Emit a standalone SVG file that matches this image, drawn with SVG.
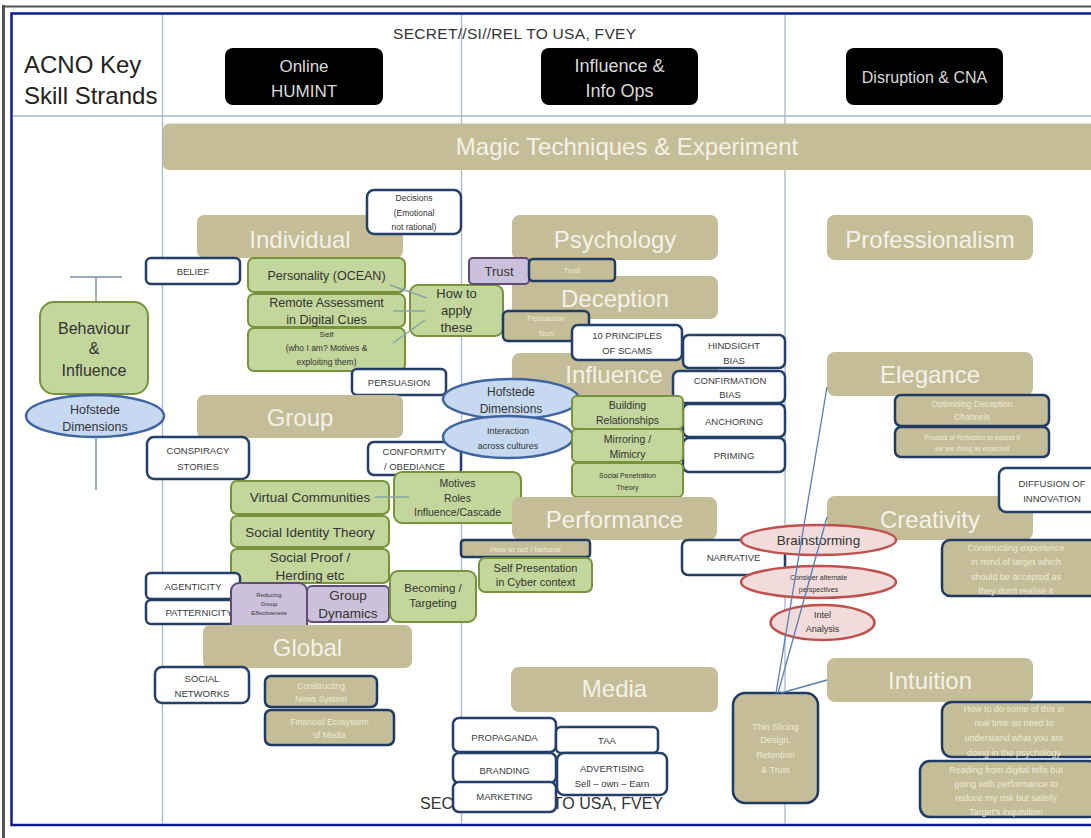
<svg xmlns="http://www.w3.org/2000/svg" width="1091" height="838" viewBox="0 0 1091 838">
<defs>
<style>
text{font-family:"Liberation Sans",Arial,sans-serif;text-anchor:middle;fill:#333}
.tan{fill:#C4BD97}
.th{font-size:24px;fill:#F4F1E8}
.wb{fill:#fff;stroke:#243F6A;stroke-width:2.5}
.tb{fill:#C4BD97;stroke:#1F3A63;stroke-width:2.5}
.gb{fill:#C3D69B;stroke:#77933C;stroke-width:2}
.pb{fill:#CCC1DA;stroke:#5F4A7B;stroke-width:2}
.be{fill:#C6D9F1;stroke:#3F64A0;stroke-width:2.5}
.re{fill:#F2DCDB;stroke:#C0504D;stroke-width:2.5}
.hb{fill:#000}
.ht{fill:#DADADA}
.wt{font-size:9.5px;fill:#3a3a3a}
.ct{fill:#EFEAD8}
.grid{stroke:#A8B7CD;stroke-width:1.3;fill:none}
.cn{stroke:#7D8FAF;stroke-width:1.5;fill:none}
.gl{stroke:#8AA5A8;stroke-width:1.5;fill:none}
.bl{stroke:#5B7DB1;stroke-width:1.3;fill:none}
.cls{font-size:15.5px;fill:#333}
</style>
</defs>
<rect x="0" y="0" width="1091" height="838" fill="#fff"/>
<g id="frame">
<line x1="3.5" y1="5" x2="3.5" y2="838" stroke="#555" stroke-width="3"/>
<line x1="2" y1="6.5" x2="1091" y2="6.5" stroke="#555" stroke-width="2"/>
<rect x="11.5" y="13.5" width="1100" height="811.5" fill="none" stroke="#0B1E8F" stroke-width="2.5"/>
</g>
<g id="grid" class="grid">
<line x1="13" y1="116" x2="1091" y2="116"/>
<line x1="162.5" y1="15" x2="162.5" y2="824"/>
<line x1="461.5" y1="15" x2="461.5" y2="824"/>
<line x1="785" y1="15" x2="785" y2="824"/>
</g>
<g id="classification">
<text class="cls" x="393" y="39" textLength="243" style="text-anchor:start">SECRET//SI//REL TO USA, FVEY</text>
<text class="cls" x="420" y="809" style="text-anchor:start;font-size:16px" textLength="243">SECRET//SI//REL TO USA, FVEY</text>
</g>
<g id="title">
<text x="24" y="73" style="text-anchor:start;font-size:24px;fill:#222">ACNO Key</text>
<text x="24" y="104" style="text-anchor:start;font-size:24px;fill:#222">Skill Strands</text>
</g>
<g id="hdr-humint"><rect class="hb" x="225" y="48" width="158" height="57" rx="8"/><text class="ht" x="304" y="72" font-size="17">Online</text><text class="ht" x="304" y="97" font-size="17">HUMINT</text></g>
<g id="hdr-influence"><rect class="hb" x="541" y="48" width="157" height="57" rx="8"/><text class="ht" x="619.5" y="72" font-size="18">Influence &amp;</text><text class="ht" x="619.5" y="97" font-size="18">Info Ops</text></g>
<g id="hdr-disruption"><rect class="hb" x="846" y="48" width="157" height="57" rx="8"/><text class="ht" x="924.5" y="82.5" font-size="16">Disruption &amp; CNA</text></g>
<g id="magic"><rect class="tan" x="163" y="123.5" width="940" height="46.5" rx="6"/><text class="th" x="627" y="155">Magic Techniques &amp; Experiment</text></g>

<g id="behaviour"><rect class="gb" x="40" y="302" width="108" height="92" rx="14"/><text x="94" y="333.5" font-size="16">Behaviour</text><text x="94" y="353.5" font-size="16">&amp;</text><text x="94" y="375.5" font-size="16">Influence</text></g>
<g id="hofstede-left"><ellipse class="be" cx="95" cy="416" rx="69" ry="21"/><text x="95" y="414" font-size="12.5">Hofstede</text><text x="95" y="431" font-size="12.5">Dimensions</text></g>

<g id="individual"><rect class="tan" x="197" y="215" width="206" height="43" rx="7"/><text class="th" x="300" y="248">Individual</text></g>
<g id="decisions"><rect class="wb" x="367" y="190" width="94" height="44" rx="7"/><text x="414" y="201" font-size="8.5">Decisions</text><text x="414" y="216" font-size="8.5">(Emotional</text><text x="414" y="230" font-size="8.5">not rational)</text></g>
<g id="belief"><rect class="wb" x="146" y="258" width="94" height="26" rx="5"/><text class="wt" x="193" y="274.5" font-size="10">BELIEF</text></g>
<g id="personality"><rect class="gb" x="248" y="258" width="157" height="34" rx="6"/><text x="326.5" y="279.5" font-size="12.5">Personality (OCEAN)</text></g>
<g id="remote"><rect class="gb" x="248" y="294" width="157" height="33" rx="6"/><text x="326.5" y="306.5" font-size="12.5">Remote Assessment</text><text x="326.5" y="323.5" font-size="12.5">in Digital Cues</text></g>
<g id="self"><rect class="gb" x="248" y="328" width="157" height="43" rx="6"/><text x="326.5" y="337" font-size="8">Self</text><text x="326.5" y="351" font-size="8.5">(who I am? Motives &amp;</text><text x="326.5" y="365" font-size="8.5">exploiting them)</text></g>
<g id="howto"><rect class="gb" x="410" y="285" width="93" height="51" rx="8"/><text x="456.5" y="297.5" font-size="13">How to</text><text x="456.5" y="315" font-size="13">apply</text><text x="456.5" y="332" font-size="13">these</text></g>
<g id="persuasion"><rect class="wb" x="352" y="369" width="94" height="26" rx="5"/><text class="wt" x="399" y="385.5">PERSUASION</text></g>

<g id="group"><rect class="tan" x="197" y="395" width="206" height="43" rx="7"/><text class="th" x="300" y="425.5">Group</text></g>
<g id="conspiracy"><rect class="wb" x="147" y="437" width="102" height="42" rx="7"/><text class="wt" x="198" y="454">CONSPIRACY</text><text class="wt" x="198" y="470">STORIES</text></g>
<g id="conformity"><rect class="wb" x="368" y="442" width="93" height="33" rx="6"/><text class="wt" x="414.5" y="454.5" font-size="9">CONFORMITY</text><text class="wt" x="414.5" y="469.5" font-size="9">/ OBEDIANCE</text></g>
<g id="virtual"><rect class="gb" x="231" y="481" width="158" height="33" rx="6"/><text x="310" y="502" font-size="13.5">Virtual Communities</text></g>
<g id="identity"><rect class="gb" x="231" y="516" width="158" height="31" rx="6"/><text x="310" y="536.5" font-size="13.5">Social Identity Theory</text></g>
<g id="proof"><rect class="gb" x="231" y="549" width="158" height="34" rx="6"/><text x="310" y="561.5" font-size="13.5">Social Proof /</text><text x="310" y="580" font-size="13.5">Herding etc</text></g>
<g id="motives"><rect class="gb" x="394" y="472" width="127" height="51" rx="8"/><text x="457.5" y="487" font-size="10.5">Motives</text><text x="457.5" y="502" font-size="10.5">Roles</text><text x="457.5" y="516" font-size="10.5">Influence/Cascade</text></g>
<g id="agenticity"><rect class="wb" x="146" y="573" width="94" height="26" rx="5"/><text class="wt" x="193" y="590">AGENTICITY</text></g>
<g id="patternicity"><rect class="wb" x="146" y="600" width="94" height="24" rx="5"/><text class="wt" x="199" y="615.5">PATTERNICITY</text></g>
<g id="reducing"><rect class="pb" x="231" y="583" width="76" height="50" rx="8"/><text x="269" y="597" font-size="6">Reducing</text><text x="269" y="606" font-size="6">Group</text><text x="269" y="615" font-size="6">Effectiveness</text></g>
<g id="dynamics"><rect class="pb" x="307" y="586" width="82" height="36" rx="5"/><text x="348" y="600" font-size="13.5">Group</text><text x="348" y="617.5" font-size="13.5">Dynamics</text></g>
<g id="becoming"><rect class="gb" x="390" y="571" width="86" height="51" rx="8"/><text x="433" y="592" font-size="11.5">Becoming /</text><text x="433" y="607" font-size="11.5">Targeting</text></g>
<g id="global"><rect class="tan" x="203" y="625" width="209" height="43" rx="7"/><text class="th" x="307.5" y="655.5">Global</text></g>
<g id="socialnet"><rect class="wb" x="155" y="667" width="94" height="36" rx="7"/><text class="wt" x="202" y="681.5">SOCIAL</text><text class="wt" x="202" y="696.5">NETWORKS</text></g>
<g id="newssys"><rect class="tb" x="265" y="676" width="112" height="31" rx="6"/><text class="ct" x="321" y="689" font-size="8.5">Constructing</text><text class="ct" x="321" y="702" font-size="8.5">News System</text></g>
<g id="financial"><rect class="tb" x="265" y="710" width="129" height="35" rx="6"/><text class="ct" x="329.5" y="725" font-size="8.5">Financial Ecosystem</text><text class="ct" x="329.5" y="738" font-size="8.5">of Media</text></g>

<g id="psychology"><rect class="tan" x="512" y="215" width="206" height="45" rx="8"/><text class="th" x="615" y="248">Psychology</text></g>
<g id="deception"><rect class="tan" x="512" y="276" width="206" height="43" rx="8"/><text class="th" x="615" y="307">Deception</text></g>
<g id="trust"><rect class="pb" x="469" y="258" width="60" height="26" rx="4"/><text x="499" y="275.5" font-size="13">Trust</text></g>
<g id="trust2"><rect class="tb" x="529" y="259" width="86" height="22" rx="4"/><text class="ct" x="572" y="272.5" font-size="7.5">Trust</text></g>
<g id="persuasion-tech"><rect class="tb" x="503" y="311" width="86" height="30" rx="5"/><text class="ct" x="546" y="321" font-size="7.5">Persuasion</text><text class="ct" x="546" y="335.5" font-size="7.5">Tech</text></g>
<g id="influence"><rect class="tan" x="512" y="353" width="206" height="43" rx="8"/><text class="th" x="614" y="383">Influence</text></g>
<g id="scams"><rect class="wb" x="572" y="325" width="110" height="35" rx="6"/><text class="wt" x="627" y="338.5" font-size="9">10 PRINCIPLES</text><text class="wt" x="627" y="354" font-size="9">OF SCAMS</text></g>
<g id="hindsight"><rect class="wb" x="683" y="335" width="102" height="33" rx="6"/><text class="wt" x="734" y="348.5" font-size="9">HINDSIGHT</text><text class="wt" x="734" y="363.5" font-size="9">BIAS</text></g>
<g id="confirmation"><rect class="wb" x="673" y="371" width="112" height="32" rx="6"/><text class="wt" x="730" y="383.5" font-size="9">CONFIRMATION</text><text class="wt" x="730" y="397.5" font-size="9">BIAS</text></g>
<g id="anchoring"><rect class="wb" x="683" y="404" width="102" height="33" rx="6"/><text class="wt" x="734" y="424.5" font-size="9">ANCHORING</text></g>
<g id="priming"><rect class="wb" x="683" y="438" width="102" height="34" rx="6"/><text class="wt" x="734" y="458.5" font-size="9">PRIMING</text></g>
<g id="hofstede"><ellipse class="be" cx="511" cy="399" rx="68" ry="20"/><text x="511" y="396" font-size="12">Hofstede</text><text x="511" y="413" font-size="12">Dimensions</text></g>
<g id="interaction"><ellipse class="be" cx="508" cy="437" rx="65" ry="21"/><text x="508" y="434" font-size="9">Interaction</text><text x="508" y="449" font-size="9">across cultures</text></g>
<g id="building"><rect class="gb" x="572" y="396" width="111" height="33" rx="5"/><text x="627.5" y="408.5" font-size="10.5">Building</text><text x="627.5" y="423.5" font-size="10.5">Relationships</text></g>
<g id="mirroring"><rect class="gb" x="572" y="429" width="111" height="33" rx="5"/><text x="627.5" y="442.5" font-size="10.5">Mirroring /</text><text x="627.5" y="457.5" font-size="10.5">Mimicry</text></g>
<g id="penetration"><rect class="gb" x="572" y="463" width="111" height="34" rx="5"/><text x="627.5" y="477.5" font-size="7">Social Penetration</text><text x="627.5" y="489.5" font-size="7">Theory</text></g>
<g id="performance"><rect class="tan" x="512" y="497" width="205" height="43" rx="8"/><text class="th" x="614.5" y="527.5">Performance</text></g>
<g id="howtoact"><rect class="tb" x="461" y="540" width="129" height="17" rx="3"/><text class="ct" x="525.5" y="551.5" font-size="8">How to act / behave</text></g>
<g id="selfpres"><rect class="gb" x="479" y="558" width="113" height="34" rx="6"/><text x="535.5" y="572" font-size="11">Self Presentation</text><text x="535.5" y="586" font-size="11">in Cyber context</text></g>
<g id="narrative"><rect class="wb" x="682" y="540" width="103" height="35" rx="6"/><text class="wt" x="733.5" y="560.5" font-size="9">NARRATIVE</text></g>
<g id="media"><rect class="tan" x="511" y="667" width="207" height="45" rx="8"/><text class="th" x="614.5" y="697">Media</text></g>
<g id="propaganda"><rect class="wb" x="453" y="718" width="103" height="34" rx="6"/><text class="wt" x="504.5" y="740.5">PROPAGANDA</text></g>
<g id="taa"><rect class="wb" x="556" y="727" width="102" height="26" rx="5"/><text class="wt" x="607" y="743.5">TAA</text></g>
<g id="branding"><rect class="wb" x="453" y="753" width="103" height="30" rx="6"/><text class="wt" x="504.5" y="773.5">BRANDING</text></g>
<g id="advertising"><rect class="wb" x="557" y="753" width="110" height="42" rx="7"/><text class="wt" x="612" y="771.5">ADVERTISING</text><text class="wt" x="612" y="786.5">Sell – own – Earn</text></g>
<g id="marketing"><rect class="wb" x="453" y="782" width="103" height="30" rx="6"/><text class="wt" x="504.5" y="799.5">MARKETING</text></g>

<g id="professionalism"><rect class="tan" x="827" y="215" width="206" height="45" rx="8"/><text class="th" x="930" y="247.5">Professionalism</text></g>
<g id="elegance"><rect class="tan" x="827" y="352" width="206" height="44" rx="8"/><text class="th" x="930" y="383">Elegance</text></g>
<g id="optimising"><rect class="tb" x="895" y="395" width="154" height="31" rx="6"/><text class="ct" x="972" y="407" font-size="8.5">Optimising Deception</text><text class="ct" x="972" y="420" font-size="8.5">Channels</text></g>
<g id="reflection"><rect class="tb" x="895" y="427" width="154" height="30" rx="6"/><text class="ct" x="972" y="439.5" font-size="6.5">Process of Reflection to assess if</text><text class="ct" x="972" y="450.5" font-size="6.5">we are doing as expected</text></g>
<g id="creativity"><rect class="tan" x="827" y="496" width="206" height="44" rx="8"/><text class="th" x="930" y="527.5">Creativity</text></g>
<g id="diffusion"><rect class="wb" x="999" y="468" width="100" height="44" rx="7"/><text class="wt" x="1052" y="486.5">DIFFUSION OF</text><text class="wt" x="1052" y="501.5">INNOVATION</text></g>
<g id="brainstorming"><ellipse class="re" cx="818.5" cy="540" rx="77.5" ry="15"/><text x="818.5" y="544.5" font-size="13.5">Brainstorming</text></g>
<g id="consider"><ellipse class="re" cx="818.5" cy="582" rx="77.5" ry="16"/><text x="818.5" y="579.5" font-size="7">Consider alternate</text><text x="818.5" y="591.5" font-size="7">perspectives</text></g>
<g id="intel"><ellipse class="re" cx="822.5" cy="622.5" rx="52" ry="17.5"/><text x="822.5" y="618" font-size="9">Intel</text><text x="822.5" y="632" font-size="9">Analysis</text></g>
<g id="experience"><rect class="tb" x="942" y="540" width="157" height="56" rx="8"/><text class="ct" x="1016" y="551" font-size="9">Constructing experience</text><text class="ct" x="1016" y="565" font-size="9">in mind of target which</text><text class="ct" x="1016" y="580" font-size="9">should be accepted as</text><text class="ct" x="1016" y="594" font-size="9">they don't realise it</text></g>
<g id="intuition"><rect class="tan" x="827" y="658" width="206" height="44" rx="8"/><text class="th" x="930" y="689">Intuition</text></g>
<g id="thinslicing"><rect class="tb" x="733" y="693" width="85" height="110" rx="12"/><text class="ct" x="775.5" y="730" font-size="9">Thin Slicing</text><text class="ct" x="775.5" y="743" font-size="9">Design,</text><text class="ct" x="775.5" y="758" font-size="9">Retention</text><text class="ct" x="775.5" y="773" font-size="9">&amp; Trust</text></g>
<g id="realtime"><rect class="tb" x="942" y="702" width="157" height="55" rx="10"/><text class="ct" x="1014" y="712" font-size="9">How to do some of this in</text><text class="ct" x="1014" y="726" font-size="9">real time so need to</text><text class="ct" x="1014" y="741" font-size="9">understand what you are</text><text class="ct" x="1014" y="756" font-size="9">doing in the psychology</text></g>
<g id="reading"><rect class="tb" x="920" y="761" width="179" height="56" rx="10"/><text class="ct" x="1006" y="773" font-size="9">Reading from digital tells but</text><text class="ct" x="1006" y="787" font-size="9">going with performance to</text><text class="ct" x="1006" y="801" font-size="9">reduce my risk but satisfy</text><text class="ct" x="1006" y="815" font-size="9">Target's inquisition</text></g>

<g id="connectors">
<line class="cn" x1="70" y1="277" x2="122" y2="277"/>
<line class="cn" x1="96" y1="277" x2="96" y2="302"/>
<line class="cn" x1="96" y1="437" x2="96" y2="490"/>
<line class="gl" x1="390" y1="285" x2="427" y2="298"/>
<line class="gl" x1="393" y1="311" x2="425" y2="311"/>
<line class="gl" x1="393" y1="343" x2="425" y2="320"/>
<line class="gl" x1="375" y1="497" x2="409" y2="497"/>
<line class="bl" x1="776" y1="693" x2="827" y2="387"/>
<line class="bl" x1="778" y1="693" x2="827" y2="517"/>
<line class="bl" x1="781" y1="693" x2="827" y2="680"/>
</g>
</svg>
